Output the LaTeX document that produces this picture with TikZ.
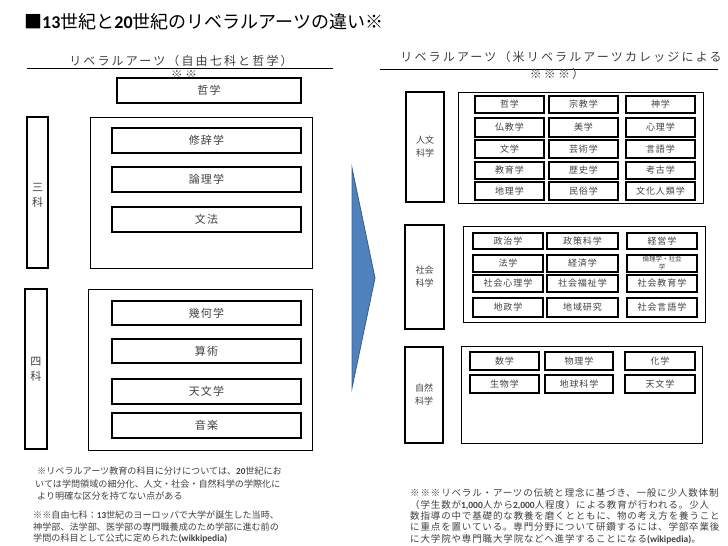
\documentclass[tikz,border=0pt]{standalone}
\usepackage{fontspec}
\setmainfont{Noto Sans CJK JP}
\newfontfamily\lat{Carlito}
\definecolor{txt}{RGB}{64,64,64}
\definecolor{arrfill}{RGB}{79,129,189}
\definecolor{arrline}{RGB}{56,93,138}
\newcommand\fhead{\fontsize{12}{14}\selectfont\addfontfeatures{LetterSpace=18}}
\newcommand\fbig{\fontsize{11}{13}\selectfont\addfontfeatures{LetterSpace=10}}
\newcommand\fitem{\fontsize{9}{11}\selectfont\addfontfeatures{LetterSpace=10}}
\newcommand\flab{\fontsize{9}{13}\selectfont}
\newcommand\fnoteL{\fontsize{9.1}{11}\selectfont}
\newcommand\fnoteR{\fontsize{9.5}{11}\selectfont\addfontfeatures{LetterSpace=9}}
\newcommand\bx[7]{\node[#1, minimum width={(#4-#2)*1pt}, minimum height={(#5-#3)*1pt}] (#7) at ({(#2+#4)/2},{(#3+#5)/2}) {#6};}
\tikzset{
  base/.style={draw=black, inner sep=0pt, outer sep=0pt, text=txt},
  bigbox/.style={base, line width=0.9pt},
  labbox/.style={base, line width=1.2pt, font=\flab, align=center},
  itemL/.style={base, line width=1.4pt, font=\fbig},
  itemR/.style={base, line width=1.4pt, font=\fitem},
  note/.style={anchor=west, inner sep=0pt, text=txt},
}
\begin{document}
\begin{tikzpicture}[x=1pt,y=-1pt]
\useasboundingbox (0,0) rectangle (728,546);
% title
\node[anchor=west, inner sep=0pt, font=\fontsize{18}{20}\selectfont] (title) at (24,22) {■{\lat\bfseries 13}世紀と{\lat\bfseries 20}世紀のリベラルアーツの違い※};
% left heading
\node[inner sep=0pt, text=txt, font=\fhead] (lhead) at (181,61) {リベラルアーツ（自由七科と哲学）};
\draw[line width=0.8pt] (27,68) -- (333,68);
\node[inner sep=0pt, text=txt, font=\fhead] (lhead2) at (184,75) {※※};
% right heading
\node[inner sep=0pt, text=txt, font=\fhead] (rhead) at (561,57) {リベラルアーツ（米リベラルアーツカレッジによる};
\draw[line width=0.8pt] (380,69) -- (718,69);
\node[inner sep=0pt, text=txt, font=\fhead] (rhead2) at (557,74) {※※※）};
% left side
\bx{itemL}{117}{78}{301}{103}{哲学}{tetsu}
\bx{labbox,label={[font=\fontsize{11}{15}\selectfont,text=txt,align=center,yshift=-3pt]center:三\\科}}{27}{117}{48}{268}{}{sanka}
\bx{bigbox}{90}{117}{312}{268}{}{sankabox}
\bx{itemL}{112}{128}{301}{153}{修辞学}{shuji}
\bx{itemL}{112}{167}{301}{192}{論理学}{ronri}
\bx{itemL}{112}{207}{301}{232}{文法}{bunpo}
\bx{labbox,font=\fontsize{11}{15}\selectfont}{25}{289}{47}{449}{四\\科}{shika}
\bx{bigbox}{88}{289}{312}{450}{}{shikabox}
\bx{itemL}{112}{301}{301}{325}{幾何学}{kika}
\bx{itemL}{112}{339}{301}{363}{算術}{sanjutsu}
\bx{itemL}{112}{379}{301}{404}{天文学}{tenmonL}
\bx{itemL}{112}{413}{301}{438}{音楽}{ongaku}
% arrow
\draw[fill=arrfill, draw=arrline, line width=0.8pt] (352,168) -- (375,278) -- (352,388) -- cycle;
% right: humanities
\bx{labbox}{406}{92}{444}{202}{人文\\科学}{jinbun}
\bx{bigbox}{458}{92}{703}{203}{}{jinbunbox}
\bx{itemR}{475}{96}{544}{113}{哲学}{h11}
\bx{itemR}{549}{96}{618}{113}{宗教学}{h12}
\bx{itemR}{626}{96}{695}{113}{神学}{h13}
\bx{itemR}{475}{118}{544}{137}{仏教学}{h21}
\bx{itemR}{549}{118}{618}{137}{美学}{h22}
\bx{itemR}{626}{118}{695}{137}{心理学}{h23}
\bx{itemR}{475}{140}{544}{158}{文学}{h31}
\bx{itemR}{549}{140}{618}{158}{芸術学}{h32}
\bx{itemR}{626}{140}{695}{158}{言語学}{h33}
\bx{itemR}{475}{162}{544}{179}{教育学}{h41}
\bx{itemR}{549}{162}{618}{179}{歴史学}{h42}
\bx{itemR}{626}{162}{695}{179}{考古学}{h43}
\bx{itemR}{475}{182}{544}{200}{地理学}{h51}
\bx{itemR}{549}{182}{618}{200}{民俗学}{h52}
\bx{itemR}{626}{182}{695}{200}{文化人類学}{h53}
% right: social sciences
\bx{labbox}{405}{225}{444}{329}{社会\\科学}{shakai}
\bx{bigbox}{463}{226}{705}{322}{}{shakaibox}
\bx{itemR}{473}{233}{543}{249}{政治学}{s11}
\bx{itemR}{547}{233}{618}{249}{政策科学}{s12}
\bx{itemR}{627}{233}{697}{249}{経営学}{s13}
\bx{itemR}{473}{255}{543}{272}{法学}{s21}
\bx{itemR}{547}{255}{618}{272}{経済学}{s22}
\bx{itemR,font=\fontsize{6.5}{8}\selectfont,align=center}{627}{255}{697}{272}{倫理学・社会\\学}{s23}
\bx{itemR}{473}{275}{543}{292}{社会心理学}{s31}
\bx{itemR}{547}{275}{618}{292}{社会福祉学}{s32}
\bx{itemR}{627}{275}{697}{292}{社会教育学}{s33}
\bx{itemR}{473}{298}{543}{317}{地政学}{s41}
\bx{itemR}{547}{298}{618}{317}{地域研究}{s42}
\bx{itemR}{627}{298}{697}{317}{社会言語学}{s43}
% right: natural sciences
\bx{labbox}{405}{347}{443}{443}{自然\\科学}{shizen}
\bx{bigbox}{461}{346}{702}{443}{}{shizenbox}
\bx{itemR}{470}{352}{539}{370}{数学}{n11}
\bx{itemR}{545}{352}{613}{370}{物理学}{n12}
\bx{itemR}{625}{352}{695}{370}{化学}{n13}
\bx{itemR}{470}{375}{539}{393}{生物学}{n21}
\bx{itemR}{545}{375}{613}{393}{地球科学}{n22}
\bx{itemR}{625}{375}{695}{393}{天文学}{n23}
% left notes
\node[note, font=\fnoteL] (nl1) at (37,471) {※リベラルアーツ教育の科目に分けについては、{\lat\bfseries 20}世紀にお};
\node[note, font=\fnoteL] (nl2) at (35,484) {いては学問領域の細分化、人文・社会・自然科学の学際化に};
\node[note, font=\fnoteL] (nl3) at (37,496) {より明確な区分を持てない点がある};
\node[note, font=\fnoteL] (nl4) at (33,515) {※※自由七科：{\lat\bfseries 13}世紀のヨーロッパで大学が誕生した当時、};
\node[note, font=\fnoteL] (nl5) at (33,527) {神学部、法学部、医学部の専門職養成のため学部に進む前の};
\node[note, font=\fnoteL] (nl6) at (33,538) {学問の科目として公式に定められた{\lat\bfseries\fontsize{9.5}{11}\selectfont (wikkipedia)}};
% right notes
\node[note, font=\fnoteR] (nr1) at (410,493) {※※※リベラル・アーツの伝統と理念に基づき、一般に少人数体制};
\node[note, font=\fnoteR] (nr2) at (410,505) {（学生数が{\lat\bfseries 1,000}人から{\lat\bfseries 2,000}人程度）による教育が行われる。少人};
\node[note, font=\fnoteR] (nr3) at (410,516) {数指導の中で基礎的な教養を磨くとともに、物の考え方を養うこと};
\node[note, font=\fnoteR] (nr4) at (410,527) {に重点を置いている。専門分野について研鑽するには、学部卒業後};
\node[note, font=\fnoteR] (nr5) at (410,539) {に大学院や専門職大学院などへ進学することになる{\lat\bfseries (wikipedia)}。};
\end{tikzpicture}
\end{document}
